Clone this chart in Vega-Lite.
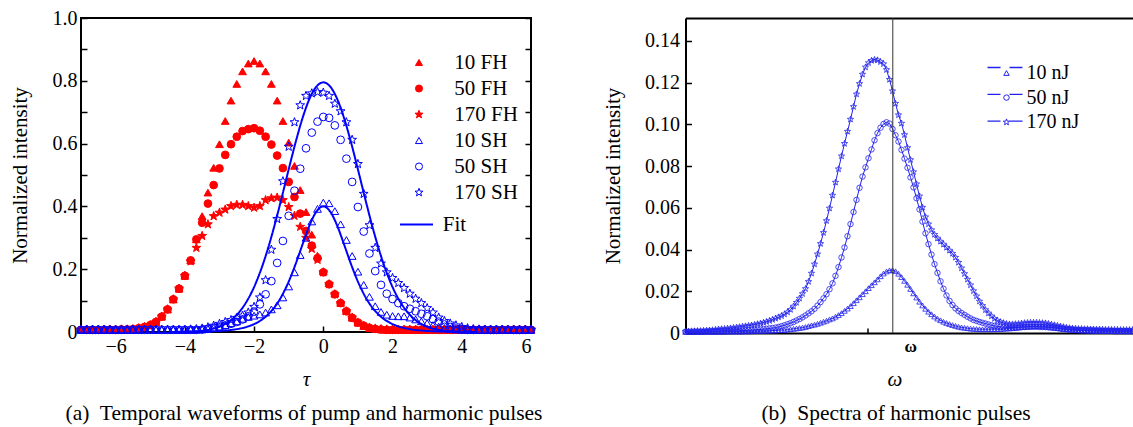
{
"$schema": "https://vega.github.io/schema/vega-lite/v6.json",
"background": "white",
"padding": {"left": 8, "top": 7, "right": 0, "bottom": 0},
"spacing": 154.5,
"bounds": "flush",
"config": {
 "font": "Liberation Serif",
 "view": {"stroke": "black", "strokeWidth": 2},
 "axis": {"grid": false, "domain": false, "labelFont": "Liberation Serif", "labelFontSize": 20, "labelColor": "black", "labelOverlap": false, "titleFont": "Liberation Serif", "titleFontSize": 21, "titleFontWeight": "normal", "titleColor": "black", "tickColor": "black", "tickWidth": 1.5, "tickSize": -6, "labelPadding": 10},
 "legend": {"labelFont": "Liberation Serif", "labelFontSize": 21, "labelColor": "black", "padding": 0},
 "title": {"font": "Liberation Serif", "fontSize": 21.5, "fontWeight": "normal", "color": "black"}
},
"resolve": {
 "scale": {"shape": "independent", "fill": "independent", "stroke": "independent", "strokeDash": "independent"},
 "legend": {"shape": "independent", "fill": "independent", "stroke": "independent", "strokeDash": "independent"}
},
"datasets": {
"L": [
{"s":"10 FH","t":-7,"v":0.007},{"s":"10 FH","t":-6.833,"v":0.007},{"s":"10 FH","t":-6.667,"v":0.007},{"s":"10 FH","t":-6.5,"v":0.007},{"s":"10 FH","t":-6.333,"v":0.007},{"s":"10 FH","t":-6.167,"v":0.007},{"s":"10 FH","t":-6,"v":0.007},{"s":"10 FH","t":-5.833,"v":0.008},{"s":"10 FH","t":-5.667,"v":0.008},{"s":"10 FH","t":-5.5,"v":0.009},{"s":"10 FH","t":-5.333,"v":0.012},{"s":"10 FH","t":-5.167,"v":0.016},{"s":"10 FH","t":-5,"v":0.022},{"s":"10 FH","t":-4.833,"v":0.032},{"s":"10 FH","t":-4.667,"v":0.049},{"s":"10 FH","t":-4.5,"v":0.072},{"s":"10 FH","t":-4.333,"v":0.104},{"s":"10 FH","t":-4.167,"v":0.138},{"s":"10 FH","t":-4,"v":0.179},{"s":"10 FH","t":-3.833,"v":0.228},{"s":"10 FH","t":-3.667,"v":0.295},{"s":"10 FH","t":-3.5,"v":0.369},{"s":"10 FH","t":-3.333,"v":0.444},{"s":"10 FH","t":-3.167,"v":0.523},{"s":"10 FH","t":-3,"v":0.598},{"s":"10 FH","t":-2.833,"v":0.672},{"s":"10 FH","t":-2.667,"v":0.737},{"s":"10 FH","t":-2.5,"v":0.79},{"s":"10 FH","t":-2.333,"v":0.83},{"s":"10 FH","t":-2.167,"v":0.855},{"s":"10 FH","t":-2,"v":0.863},{"s":"10 FH","t":-1.833,"v":0.855},{"s":"10 FH","t":-1.667,"v":0.83},{"s":"10 FH","t":-1.5,"v":0.79},{"s":"10 FH","t":-1.333,"v":0.737},{"s":"10 FH","t":-1.167,"v":0.672},{"s":"10 FH","t":-1,"v":0.603},{"s":"10 FH","t":-0.833,"v":0.529},{"s":"10 FH","t":-0.667,"v":0.452},{"s":"10 FH","t":-0.5,"v":0.382},{"s":"10 FH","t":-0.333,"v":0.31},{"s":"10 FH","t":-0.167,"v":0.243},{"s":"10 FH","t":0,"v":0.193},{"s":"10 FH","t":0.167,"v":0.155},{"s":"10 FH","t":0.333,"v":0.122},{"s":"10 FH","t":0.5,"v":0.093},{"s":"10 FH","t":0.667,"v":0.067},{"s":"10 FH","t":0.833,"v":0.046},{"s":"10 FH","t":1,"v":0.03},{"s":"10 FH","t":1.167,"v":0.019},{"s":"10 FH","t":1.333,"v":0.013},{"s":"10 FH","t":1.5,"v":0.01},{"s":"10 FH","t":1.667,"v":0.008},{"s":"10 FH","t":1.833,"v":0.007},{"s":"10 FH","t":2,"v":0.007},{"s":"10 FH","t":2.167,"v":0.007},{"s":"10 FH","t":2.333,"v":0.007},{"s":"10 FH","t":2.5,"v":0.007},{"s":"10 FH","t":2.667,"v":0.007},{"s":"10 FH","t":2.833,"v":0.007},{"s":"10 FH","t":3,"v":0.007},{"s":"10 FH","t":3.167,"v":0.007},{"s":"10 FH","t":3.333,"v":0.007},{"s":"10 FH","t":3.5,"v":0.007},{"s":"10 FH","t":3.667,"v":0.007},{"s":"10 FH","t":3.833,"v":0.007},{"s":"10 FH","t":4,"v":0.007},{"s":"10 FH","t":4.167,"v":0.007},{"s":"10 FH","t":4.333,"v":0.007},{"s":"10 FH","t":4.5,"v":0.007},{"s":"10 FH","t":4.667,"v":0.007},{"s":"10 FH","t":4.833,"v":0.007},{"s":"10 FH","t":5,"v":0.007},{"s":"10 FH","t":5.167,"v":0.007},{"s":"10 FH","t":5.333,"v":0.007},{"s":"10 FH","t":5.5,"v":0.007},{"s":"10 FH","t":5.667,"v":0.007},{"s":"10 FH","t":5.833,"v":0.007},{"s":"10 FH","t":6,"v":0.007},
{"s":"50 FH","t":-7,"v":0.007},{"s":"50 FH","t":-6.833,"v":0.007},{"s":"50 FH","t":-6.667,"v":0.007},{"s":"50 FH","t":-6.5,"v":0.007},{"s":"50 FH","t":-6.333,"v":0.007},{"s":"50 FH","t":-6.167,"v":0.007},{"s":"50 FH","t":-6,"v":0.007},{"s":"50 FH","t":-5.833,"v":0.008},{"s":"50 FH","t":-5.667,"v":0.008},{"s":"50 FH","t":-5.5,"v":0.009},{"s":"50 FH","t":-5.333,"v":0.012},{"s":"50 FH","t":-5.167,"v":0.016},{"s":"50 FH","t":-5,"v":0.022},{"s":"50 FH","t":-4.833,"v":0.032},{"s":"50 FH","t":-4.667,"v":0.049},{"s":"50 FH","t":-4.5,"v":0.072},{"s":"50 FH","t":-4.333,"v":0.104},{"s":"50 FH","t":-4.167,"v":0.138},{"s":"50 FH","t":-4,"v":0.179},{"s":"50 FH","t":-3.833,"v":0.228},{"s":"50 FH","t":-3.667,"v":0.295},{"s":"50 FH","t":-3.5,"v":0.348},{"s":"50 FH","t":-3.333,"v":0.409},{"s":"50 FH","t":-3.167,"v":0.468},{"s":"50 FH","t":-3,"v":0.521},{"s":"50 FH","t":-2.833,"v":0.564},{"s":"50 FH","t":-2.667,"v":0.598},{"s":"50 FH","t":-2.5,"v":0.622},{"s":"50 FH","t":-2.333,"v":0.64},{"s":"50 FH","t":-2.167,"v":0.646},{"s":"50 FH","t":-2,"v":0.649},{"s":"50 FH","t":-1.833,"v":0.641},{"s":"50 FH","t":-1.667,"v":0.622},{"s":"50 FH","t":-1.5,"v":0.597},{"s":"50 FH","t":-1.333,"v":0.562},{"s":"50 FH","t":-1.167,"v":0.522},{"s":"50 FH","t":-1,"v":0.478},{"s":"50 FH","t":-0.833,"v":0.43},{"s":"50 FH","t":-0.667,"v":0.377},{"s":"50 FH","t":-0.5,"v":0.322},{"s":"50 FH","t":-0.333,"v":0.275},{"s":"50 FH","t":-0.167,"v":0.235},{"s":"50 FH","t":0,"v":0.19},{"s":"50 FH","t":0.167,"v":0.152},{"s":"50 FH","t":0.333,"v":0.12},{"s":"50 FH","t":0.5,"v":0.092},{"s":"50 FH","t":0.667,"v":0.066},{"s":"50 FH","t":0.833,"v":0.045},{"s":"50 FH","t":1,"v":0.03},{"s":"50 FH","t":1.167,"v":0.02},{"s":"50 FH","t":1.333,"v":0.013},{"s":"50 FH","t":1.5,"v":0.01},{"s":"50 FH","t":1.667,"v":0.008},{"s":"50 FH","t":1.833,"v":0.007},{"s":"50 FH","t":2,"v":0.007},{"s":"50 FH","t":2.167,"v":0.007},{"s":"50 FH","t":2.333,"v":0.007},{"s":"50 FH","t":2.5,"v":0.007},{"s":"50 FH","t":2.667,"v":0.007},{"s":"50 FH","t":2.833,"v":0.007},{"s":"50 FH","t":3,"v":0.007},{"s":"50 FH","t":3.167,"v":0.007},{"s":"50 FH","t":3.333,"v":0.007},{"s":"50 FH","t":3.5,"v":0.007},{"s":"50 FH","t":3.667,"v":0.007},{"s":"50 FH","t":3.833,"v":0.007},{"s":"50 FH","t":4,"v":0.007},{"s":"50 FH","t":4.167,"v":0.007},{"s":"50 FH","t":4.333,"v":0.007},{"s":"50 FH","t":4.5,"v":0.007},{"s":"50 FH","t":4.667,"v":0.007},{"s":"50 FH","t":4.833,"v":0.007},{"s":"50 FH","t":5,"v":0.007},{"s":"50 FH","t":5.167,"v":0.007},{"s":"50 FH","t":5.333,"v":0.007},{"s":"50 FH","t":5.5,"v":0.007},{"s":"50 FH","t":5.667,"v":0.007},{"s":"50 FH","t":5.833,"v":0.007},{"s":"50 FH","t":6,"v":0.007},
{"s":"170 FH","t":-7,"v":0.007},{"s":"170 FH","t":-6.833,"v":0.007},{"s":"170 FH","t":-6.667,"v":0.007},{"s":"170 FH","t":-6.5,"v":0.007},{"s":"170 FH","t":-6.333,"v":0.007},{"s":"170 FH","t":-6.167,"v":0.007},{"s":"170 FH","t":-6,"v":0.007},{"s":"170 FH","t":-5.833,"v":0.008},{"s":"170 FH","t":-5.667,"v":0.008},{"s":"170 FH","t":-5.5,"v":0.009},{"s":"170 FH","t":-5.333,"v":0.012},{"s":"170 FH","t":-5.167,"v":0.016},{"s":"170 FH","t":-5,"v":0.022},{"s":"170 FH","t":-4.833,"v":0.032},{"s":"170 FH","t":-4.667,"v":0.049},{"s":"170 FH","t":-4.5,"v":0.072},{"s":"170 FH","t":-4.333,"v":0.104},{"s":"170 FH","t":-4.167,"v":0.138},{"s":"170 FH","t":-4,"v":0.179},{"s":"170 FH","t":-3.833,"v":0.225},{"s":"170 FH","t":-3.667,"v":0.268},{"s":"170 FH","t":-3.5,"v":0.306},{"s":"170 FH","t":-3.333,"v":0.343},{"s":"170 FH","t":-3.167,"v":0.369},{"s":"170 FH","t":-3,"v":0.38},{"s":"170 FH","t":-2.833,"v":0.39},{"s":"170 FH","t":-2.667,"v":0.401},{"s":"170 FH","t":-2.5,"v":0.405},{"s":"170 FH","t":-2.333,"v":0.405},{"s":"170 FH","t":-2.167,"v":0.401},{"s":"170 FH","t":-2,"v":0.396},{"s":"170 FH","t":-1.833,"v":0.401},{"s":"170 FH","t":-1.667,"v":0.42},{"s":"170 FH","t":-1.5,"v":0.426},{"s":"170 FH","t":-1.333,"v":0.428},{"s":"170 FH","t":-1.167,"v":0.42},{"s":"170 FH","t":-1,"v":0.398},{"s":"170 FH","t":-0.833,"v":0.37},{"s":"170 FH","t":-0.667,"v":0.335},{"s":"170 FH","t":-0.5,"v":0.3},{"s":"170 FH","t":-0.333,"v":0.265},{"s":"170 FH","t":-0.167,"v":0.23},{"s":"170 FH","t":0,"v":0.19},{"s":"170 FH","t":0.167,"v":0.152},{"s":"170 FH","t":0.333,"v":0.12},{"s":"170 FH","t":0.5,"v":0.092},{"s":"170 FH","t":0.667,"v":0.066},{"s":"170 FH","t":0.833,"v":0.046},{"s":"170 FH","t":1,"v":0.03},{"s":"170 FH","t":1.167,"v":0.02},{"s":"170 FH","t":1.333,"v":0.014},{"s":"170 FH","t":1.5,"v":0.011},{"s":"170 FH","t":1.667,"v":0.009},{"s":"170 FH","t":1.833,"v":0.008},{"s":"170 FH","t":2,"v":0.007},{"s":"170 FH","t":2.167,"v":0.007},{"s":"170 FH","t":2.333,"v":0.007},{"s":"170 FH","t":2.5,"v":0.007},{"s":"170 FH","t":2.667,"v":0.007},{"s":"170 FH","t":2.833,"v":0.007},{"s":"170 FH","t":3,"v":0.007},{"s":"170 FH","t":3.167,"v":0.007},{"s":"170 FH","t":3.333,"v":0.007},{"s":"170 FH","t":3.5,"v":0.007},{"s":"170 FH","t":3.667,"v":0.007},{"s":"170 FH","t":3.833,"v":0.007},{"s":"170 FH","t":4,"v":0.007},{"s":"170 FH","t":4.167,"v":0.007},{"s":"170 FH","t":4.333,"v":0.007},{"s":"170 FH","t":4.5,"v":0.007},{"s":"170 FH","t":4.667,"v":0.007},{"s":"170 FH","t":4.833,"v":0.007},{"s":"170 FH","t":5,"v":0.007},{"s":"170 FH","t":5.167,"v":0.007},{"s":"170 FH","t":5.333,"v":0.007},{"s":"170 FH","t":5.5,"v":0.007},{"s":"170 FH","t":5.667,"v":0.007},{"s":"170 FH","t":5.833,"v":0.007},{"s":"170 FH","t":6,"v":0.007},
{"s":"10 SH","t":-7,"v":0.007},{"s":"10 SH","t":-6.833,"v":0.007},{"s":"10 SH","t":-6.667,"v":0.007},{"s":"10 SH","t":-6.5,"v":0.007},{"s":"10 SH","t":-6.333,"v":0.007},{"s":"10 SH","t":-6.167,"v":0.007},{"s":"10 SH","t":-6,"v":0.007},{"s":"10 SH","t":-5.833,"v":0.007},{"s":"10 SH","t":-5.667,"v":0.007},{"s":"10 SH","t":-5.5,"v":0.007},{"s":"10 SH","t":-5.333,"v":0.007},{"s":"10 SH","t":-5.167,"v":0.007},{"s":"10 SH","t":-5,"v":0.007},{"s":"10 SH","t":-4.833,"v":0.007},{"s":"10 SH","t":-4.667,"v":0.007},{"s":"10 SH","t":-4.5,"v":0.007},{"s":"10 SH","t":-4.333,"v":0.007},{"s":"10 SH","t":-4.167,"v":0.007},{"s":"10 SH","t":-4,"v":0.007},{"s":"10 SH","t":-3.833,"v":0.007},{"s":"10 SH","t":-3.667,"v":0.007},{"s":"10 SH","t":-3.5,"v":0.008},{"s":"10 SH","t":-3.333,"v":0.01},{"s":"10 SH","t":-3.167,"v":0.013},{"s":"10 SH","t":-3,"v":0.017},{"s":"10 SH","t":-2.833,"v":0.022},{"s":"10 SH","t":-2.667,"v":0.028},{"s":"10 SH","t":-2.5,"v":0.034},{"s":"10 SH","t":-2.333,"v":0.042},{"s":"10 SH","t":-2.167,"v":0.048},{"s":"10 SH","t":-2,"v":0.052},{"s":"10 SH","t":-1.833,"v":0.056},{"s":"10 SH","t":-1.667,"v":0.062},{"s":"10 SH","t":-1.5,"v":0.072},{"s":"10 SH","t":-1.333,"v":0.085},{"s":"10 SH","t":-1.167,"v":0.11},{"s":"10 SH","t":-1,"v":0.145},{"s":"10 SH","t":-0.833,"v":0.19},{"s":"10 SH","t":-0.667,"v":0.245},{"s":"10 SH","t":-0.5,"v":0.3},{"s":"10 SH","t":-0.333,"v":0.352},{"s":"10 SH","t":-0.167,"v":0.392},{"s":"10 SH","t":0,"v":0.412},{"s":"10 SH","t":0.167,"v":0.41},{"s":"10 SH","t":0.333,"v":0.385},{"s":"10 SH","t":0.5,"v":0.343},{"s":"10 SH","t":0.667,"v":0.293},{"s":"10 SH","t":0.833,"v":0.242},{"s":"10 SH","t":1,"v":0.192},{"s":"10 SH","t":1.167,"v":0.15},{"s":"10 SH","t":1.333,"v":0.112},{"s":"10 SH","t":1.5,"v":0.082},{"s":"10 SH","t":1.667,"v":0.064},{"s":"10 SH","t":1.833,"v":0.055},{"s":"10 SH","t":2,"v":0.051},{"s":"10 SH","t":2.167,"v":0.05},{"s":"10 SH","t":2.333,"v":0.05},{"s":"10 SH","t":2.5,"v":0.046},{"s":"10 SH","t":2.667,"v":0.04},{"s":"10 SH","t":2.833,"v":0.034},{"s":"10 SH","t":3,"v":0.028},{"s":"10 SH","t":3.167,"v":0.022},{"s":"10 SH","t":3.333,"v":0.017},{"s":"10 SH","t":3.5,"v":0.013},{"s":"10 SH","t":3.667,"v":0.01},{"s":"10 SH","t":3.833,"v":0.008},{"s":"10 SH","t":4,"v":0.007},{"s":"10 SH","t":4.167,"v":0.007},{"s":"10 SH","t":4.333,"v":0.007},{"s":"10 SH","t":4.5,"v":0.007},{"s":"10 SH","t":4.667,"v":0.007},{"s":"10 SH","t":4.833,"v":0.007},{"s":"10 SH","t":5,"v":0.007},{"s":"10 SH","t":5.167,"v":0.007},{"s":"10 SH","t":5.333,"v":0.007},{"s":"10 SH","t":5.5,"v":0.007},{"s":"10 SH","t":5.667,"v":0.007},{"s":"10 SH","t":5.833,"v":0.007},{"s":"10 SH","t":6,"v":0.007},
{"s":"50 SH","t":-7,"v":0.007},{"s":"50 SH","t":-6.833,"v":0.007},{"s":"50 SH","t":-6.667,"v":0.007},{"s":"50 SH","t":-6.5,"v":0.007},{"s":"50 SH","t":-6.333,"v":0.007},{"s":"50 SH","t":-6.167,"v":0.007},{"s":"50 SH","t":-6,"v":0.007},{"s":"50 SH","t":-5.833,"v":0.007},{"s":"50 SH","t":-5.667,"v":0.007},{"s":"50 SH","t":-5.5,"v":0.007},{"s":"50 SH","t":-5.333,"v":0.007},{"s":"50 SH","t":-5.167,"v":0.007},{"s":"50 SH","t":-5,"v":0.007},{"s":"50 SH","t":-4.833,"v":0.007},{"s":"50 SH","t":-4.667,"v":0.007},{"s":"50 SH","t":-4.5,"v":0.007},{"s":"50 SH","t":-4.333,"v":0.007},{"s":"50 SH","t":-4.167,"v":0.007},{"s":"50 SH","t":-4,"v":0.007},{"s":"50 SH","t":-3.833,"v":0.007},{"s":"50 SH","t":-3.667,"v":0.007},{"s":"50 SH","t":-3.5,"v":0.008},{"s":"50 SH","t":-3.333,"v":0.01},{"s":"50 SH","t":-3.167,"v":0.013},{"s":"50 SH","t":-3,"v":0.017},{"s":"50 SH","t":-2.833,"v":0.021},{"s":"50 SH","t":-2.667,"v":0.026},{"s":"50 SH","t":-2.5,"v":0.032},{"s":"50 SH","t":-2.333,"v":0.04},{"s":"50 SH","t":-2.167,"v":0.05},{"s":"50 SH","t":-2,"v":0.065},{"s":"50 SH","t":-1.833,"v":0.088},{"s":"50 SH","t":-1.667,"v":0.12},{"s":"50 SH","t":-1.5,"v":0.162},{"s":"50 SH","t":-1.333,"v":0.22},{"s":"50 SH","t":-1.167,"v":0.29},{"s":"50 SH","t":-1,"v":0.37},{"s":"50 SH","t":-0.833,"v":0.45},{"s":"50 SH","t":-0.667,"v":0.52},{"s":"50 SH","t":-0.5,"v":0.585},{"s":"50 SH","t":-0.333,"v":0.635},{"s":"50 SH","t":-0.167,"v":0.67},{"s":"50 SH","t":0,"v":0.685},{"s":"50 SH","t":0.167,"v":0.682},{"s":"50 SH","t":0.333,"v":0.658},{"s":"50 SH","t":0.5,"v":0.612},{"s":"50 SH","t":0.667,"v":0.552},{"s":"50 SH","t":0.833,"v":0.478},{"s":"50 SH","t":1,"v":0.398},{"s":"50 SH","t":1.167,"v":0.32},{"s":"50 SH","t":1.333,"v":0.25},{"s":"50 SH","t":1.5,"v":0.194},{"s":"50 SH","t":1.667,"v":0.15},{"s":"50 SH","t":1.833,"v":0.122},{"s":"50 SH","t":2,"v":0.105},{"s":"50 SH","t":2.167,"v":0.092},{"s":"50 SH","t":2.333,"v":0.082},{"s":"50 SH","t":2.5,"v":0.074},{"s":"50 SH","t":2.667,"v":0.066},{"s":"50 SH","t":2.833,"v":0.058},{"s":"50 SH","t":3,"v":0.05},{"s":"50 SH","t":3.167,"v":0.041},{"s":"50 SH","t":3.333,"v":0.033},{"s":"50 SH","t":3.5,"v":0.024},{"s":"50 SH","t":3.667,"v":0.016},{"s":"50 SH","t":3.833,"v":0.011},{"s":"50 SH","t":4,"v":0.008},{"s":"50 SH","t":4.167,"v":0.007},{"s":"50 SH","t":4.333,"v":0.007},{"s":"50 SH","t":4.5,"v":0.007},{"s":"50 SH","t":4.667,"v":0.007},{"s":"50 SH","t":4.833,"v":0.007},{"s":"50 SH","t":5,"v":0.007},{"s":"50 SH","t":5.167,"v":0.007},{"s":"50 SH","t":5.333,"v":0.007},{"s":"50 SH","t":5.5,"v":0.007},{"s":"50 SH","t":5.667,"v":0.007},{"s":"50 SH","t":5.833,"v":0.007},{"s":"50 SH","t":6,"v":0.007},
{"s":"170 SH","t":-7,"v":0.007},{"s":"170 SH","t":-6.833,"v":0.007},{"s":"170 SH","t":-6.667,"v":0.007},{"s":"170 SH","t":-6.5,"v":0.007},{"s":"170 SH","t":-6.333,"v":0.007},{"s":"170 SH","t":-6.167,"v":0.007},{"s":"170 SH","t":-6,"v":0.007},{"s":"170 SH","t":-5.833,"v":0.007},{"s":"170 SH","t":-5.667,"v":0.007},{"s":"170 SH","t":-5.5,"v":0.007},{"s":"170 SH","t":-5.333,"v":0.007},{"s":"170 SH","t":-5.167,"v":0.007},{"s":"170 SH","t":-5,"v":0.007},{"s":"170 SH","t":-4.833,"v":0.007},{"s":"170 SH","t":-4.667,"v":0.007},{"s":"170 SH","t":-4.5,"v":0.007},{"s":"170 SH","t":-4.333,"v":0.007},{"s":"170 SH","t":-4.167,"v":0.007},{"s":"170 SH","t":-4,"v":0.007},{"s":"170 SH","t":-3.833,"v":0.008},{"s":"170 SH","t":-3.667,"v":0.009},{"s":"170 SH","t":-3.5,"v":0.011},{"s":"170 SH","t":-3.333,"v":0.015},{"s":"170 SH","t":-3.167,"v":0.02},{"s":"170 SH","t":-3,"v":0.026},{"s":"170 SH","t":-2.833,"v":0.032},{"s":"170 SH","t":-2.667,"v":0.038},{"s":"170 SH","t":-2.5,"v":0.045},{"s":"170 SH","t":-2.333,"v":0.052},{"s":"170 SH","t":-2.167,"v":0.062},{"s":"170 SH","t":-2,"v":0.08},{"s":"170 SH","t":-1.833,"v":0.11},{"s":"170 SH","t":-1.667,"v":0.165},{"s":"170 SH","t":-1.5,"v":0.262},{"s":"170 SH","t":-1.333,"v":0.36},{"s":"170 SH","t":-1.167,"v":0.48},{"s":"170 SH","t":-1,"v":0.59},{"s":"170 SH","t":-0.833,"v":0.668},{"s":"170 SH","t":-0.667,"v":0.722},{"s":"170 SH","t":-0.5,"v":0.752},{"s":"170 SH","t":-0.333,"v":0.76},{"s":"170 SH","t":-0.167,"v":0.764},{"s":"170 SH","t":0,"v":0.762},{"s":"170 SH","t":0.167,"v":0.752},{"s":"170 SH","t":0.333,"v":0.727},{"s":"170 SH","t":0.5,"v":0.703},{"s":"170 SH","t":0.667,"v":0.668},{"s":"170 SH","t":0.833,"v":0.612},{"s":"170 SH","t":1,"v":0.535},{"s":"170 SH","t":1.167,"v":0.44},{"s":"170 SH","t":1.333,"v":0.34},{"s":"170 SH","t":1.5,"v":0.268},{"s":"170 SH","t":1.667,"v":0.218},{"s":"170 SH","t":1.833,"v":0.19},{"s":"170 SH","t":2,"v":0.172},{"s":"170 SH","t":2.167,"v":0.156},{"s":"170 SH","t":2.333,"v":0.14},{"s":"170 SH","t":2.5,"v":0.122},{"s":"170 SH","t":2.667,"v":0.106},{"s":"170 SH","t":2.833,"v":0.092},{"s":"170 SH","t":3,"v":0.076},{"s":"170 SH","t":3.167,"v":0.062},{"s":"170 SH","t":3.333,"v":0.046},{"s":"170 SH","t":3.5,"v":0.035},{"s":"170 SH","t":3.667,"v":0.027},{"s":"170 SH","t":3.833,"v":0.021},{"s":"170 SH","t":4,"v":0.016},{"s":"170 SH","t":4.167,"v":0.012},{"s":"170 SH","t":4.333,"v":0.009},{"s":"170 SH","t":4.5,"v":0.008},{"s":"170 SH","t":4.667,"v":0.007},{"s":"170 SH","t":4.833,"v":0.007},{"s":"170 SH","t":5,"v":0.007},{"s":"170 SH","t":5.167,"v":0.007},{"s":"170 SH","t":5.333,"v":0.007},{"s":"170 SH","t":5.5,"v":0.007},{"s":"170 SH","t":5.667,"v":0.007},{"s":"170 SH","t":5.833,"v":0.007},{"s":"170 SH","t":6,"v":0.007}
],
"F": [
{"g":"a","f":"Fit","t":-4.4,"v":0.0002},{"g":"a","f":"Fit","t":-4.2,"v":0.0004},{"g":"a","f":"Fit","t":-4,"v":0.0008},{"g":"a","f":"Fit","t":-3.8,"v":0.0016},{"g":"a","f":"Fit","t":-3.6,"v":0.0031},{"g":"a","f":"Fit","t":-3.4,"v":0.0056},{"g":"a","f":"Fit","t":-3.2,"v":0.0099},{"g":"a","f":"Fit","t":-3,"v":0.0168},{"g":"a","f":"Fit","t":-2.8,"v":0.0276},{"g":"a","f":"Fit","t":-2.6,"v":0.0439},{"g":"a","f":"Fit","t":-2.4,"v":0.0673},{"g":"a","f":"Fit","t":-2.2,"v":0.0999},{"g":"a","f":"Fit","t":-2,"v":0.1431},{"g":"a","f":"Fit","t":-1.8,"v":0.1983},{"g":"a","f":"Fit","t":-1.6,"v":0.2654},{"g":"a","f":"Fit","t":-1.4,"v":0.3432},{"g":"a","f":"Fit","t":-1.2,"v":0.4289},{"g":"a","f":"Fit","t":-1,"v":0.5179},{"g":"a","f":"Fit","t":-0.8,"v":0.6043},{"g":"a","f":"Fit","t":-0.6,"v":0.6813},{"g":"a","f":"Fit","t":-0.4,"v":0.7423},{"g":"a","f":"Fit","t":-0.2,"v":0.7815},{"g":"a","f":"Fit","t":0,"v":0.795},{"g":"a","f":"Fit","t":0.2,"v":0.7815},{"g":"a","f":"Fit","t":0.4,"v":0.7423},{"g":"a","f":"Fit","t":0.6,"v":0.6813},{"g":"a","f":"Fit","t":0.8,"v":0.6043},{"g":"a","f":"Fit","t":1,"v":0.5179},{"g":"a","f":"Fit","t":1.2,"v":0.4289},{"g":"a","f":"Fit","t":1.4,"v":0.3432},{"g":"a","f":"Fit","t":1.6,"v":0.2654},{"g":"a","f":"Fit","t":1.8,"v":0.1983},{"g":"a","f":"Fit","t":2,"v":0.1431},{"g":"a","f":"Fit","t":2.2,"v":0.0999},{"g":"a","f":"Fit","t":2.4,"v":0.0673},{"g":"a","f":"Fit","t":2.6,"v":0.0439},{"g":"a","f":"Fit","t":2.8,"v":0.0276},{"g":"a","f":"Fit","t":3,"v":0.0168},{"g":"a","f":"Fit","t":3.2,"v":0.0099},{"g":"a","f":"Fit","t":3.4,"v":0.0056},{"g":"a","f":"Fit","t":3.6,"v":0.0031},{"g":"a","f":"Fit","t":3.8,"v":0.0016},{"g":"a","f":"Fit","t":4,"v":0.0008},{"g":"a","f":"Fit","t":4.2,"v":0.0004},{"g":"a","f":"Fit","t":4.4,"v":0.0002},
{"g":"b","f":"Fit","t":-4.4,"v":0.0002},{"g":"b","f":"Fit","t":-4.2,"v":0.0003},{"g":"b","f":"Fit","t":-4,"v":0.0004},{"g":"b","f":"Fit","t":-3.8,"v":0.0006},{"g":"b","f":"Fit","t":-3.6,"v":0.001},{"g":"b","f":"Fit","t":-3.4,"v":0.0015},{"g":"b","f":"Fit","t":-3.2,"v":0.0022},{"g":"b","f":"Fit","t":-3,"v":0.0033},{"g":"b","f":"Fit","t":-2.8,"v":0.0049},{"g":"b","f":"Fit","t":-2.6,"v":0.0074},{"g":"b","f":"Fit","t":-2.4,"v":0.0112},{"g":"b","f":"Fit","t":-2.2,"v":0.0168},{"g":"b","f":"Fit","t":-2,"v":0.0251},{"g":"b","f":"Fit","t":-1.8,"v":0.0374},{"g":"b","f":"Fit","t":-1.6,"v":0.0551},{"g":"b","f":"Fit","t":-1.4,"v":0.08},{"g":"b","f":"Fit","t":-1.2,"v":0.1149},{"g":"b","f":"Fit","t":-1,"v":0.1605},{"g":"b","f":"Fit","t":-0.8,"v":0.2164},{"g":"b","f":"Fit","t":-0.6,"v":0.2788},{"g":"b","f":"Fit","t":-0.4,"v":0.339},{"g":"b","f":"Fit","t":-0.2,"v":0.3835},{"g":"b","f":"Fit","t":0,"v":0.4},{"g":"b","f":"Fit","t":0.2,"v":0.3835},{"g":"b","f":"Fit","t":0.4,"v":0.339},{"g":"b","f":"Fit","t":0.6,"v":0.2788},{"g":"b","f":"Fit","t":0.8,"v":0.2164},{"g":"b","f":"Fit","t":1,"v":0.1605},{"g":"b","f":"Fit","t":1.2,"v":0.1149},{"g":"b","f":"Fit","t":1.4,"v":0.08},{"g":"b","f":"Fit","t":1.6,"v":0.0551},{"g":"b","f":"Fit","t":1.8,"v":0.0374},{"g":"b","f":"Fit","t":2,"v":0.0251},{"g":"b","f":"Fit","t":2.2,"v":0.0168},{"g":"b","f":"Fit","t":2.4,"v":0.0112},{"g":"b","f":"Fit","t":2.6,"v":0.0074},{"g":"b","f":"Fit","t":2.8,"v":0.0049},{"g":"b","f":"Fit","t":3,"v":0.0033},{"g":"b","f":"Fit","t":3.2,"v":0.0022},{"g":"b","f":"Fit","t":3.4,"v":0.0015},{"g":"b","f":"Fit","t":3.6,"v":0.001},{"g":"b","f":"Fit","t":3.8,"v":0.0006},{"g":"b","f":"Fit","t":4,"v":0.0004},{"g":"b","f":"Fit","t":4.2,"v":0.0003},{"g":"b","f":"Fit","t":4.4,"v":0.0002}
],
"V": [{"x": 207.3}],
"R": [
{"s":"10 nJ","x":0,"y":0.0005},{"s":"10 nJ","x":3,"y":0.0005},{"s":"10 nJ","x":6,"y":0.0005},{"s":"10 nJ","x":9,"y":0.0005},{"s":"10 nJ","x":12,"y":0.0005},{"s":"10 nJ","x":15,"y":0.0005},{"s":"10 nJ","x":18,"y":0.0006},{"s":"10 nJ","x":21,"y":0.0006},{"s":"10 nJ","x":24,"y":0.0006},{"s":"10 nJ","x":27,"y":0.0006},{"s":"10 nJ","x":30,"y":0.0006},{"s":"10 nJ","x":33,"y":0.0006},{"s":"10 nJ","x":36,"y":0.0006},{"s":"10 nJ","x":39,"y":0.0006},{"s":"10 nJ","x":42,"y":0.0007},{"s":"10 nJ","x":45,"y":0.0007},{"s":"10 nJ","x":48,"y":0.0007},{"s":"10 nJ","x":51,"y":0.0007},{"s":"10 nJ","x":54,"y":0.0007},{"s":"10 nJ","x":57,"y":0.0007},{"s":"10 nJ","x":60,"y":0.0008},{"s":"10 nJ","x":63,"y":0.0008},{"s":"10 nJ","x":66,"y":0.0008},{"s":"10 nJ","x":69,"y":0.0009},{"s":"10 nJ","x":72,"y":0.0009},{"s":"10 nJ","x":75,"y":0.001},{"s":"10 nJ","x":78,"y":0.001},{"s":"10 nJ","x":81,"y":0.0011},{"s":"10 nJ","x":84,"y":0.0011},{"s":"10 nJ","x":87,"y":0.0012},{"s":"10 nJ","x":90,"y":0.0012},{"s":"10 nJ","x":93,"y":0.0013},{"s":"10 nJ","x":96,"y":0.0014},{"s":"10 nJ","x":99,"y":0.0014},{"s":"10 nJ","x":102,"y":0.0016},{"s":"10 nJ","x":105,"y":0.0018},{"s":"10 nJ","x":108,"y":0.002},{"s":"10 nJ","x":111,"y":0.0022},{"s":"10 nJ","x":114,"y":0.0024},{"s":"10 nJ","x":117,"y":0.0026},{"s":"10 nJ","x":120,"y":0.0029},{"s":"10 nJ","x":123,"y":0.0033},{"s":"10 nJ","x":126,"y":0.0037},{"s":"10 nJ","x":129,"y":0.004},{"s":"10 nJ","x":132,"y":0.0044},{"s":"10 nJ","x":135,"y":0.0049},{"s":"10 nJ","x":138,"y":0.0054},{"s":"10 nJ","x":141,"y":0.0059},{"s":"10 nJ","x":144,"y":0.0065},{"s":"10 nJ","x":147,"y":0.007},{"s":"10 nJ","x":150,"y":0.0078},{"s":"10 nJ","x":153,"y":0.0086},{"s":"10 nJ","x":156,"y":0.0095},{"s":"10 nJ","x":159,"y":0.0106},{"s":"10 nJ","x":162,"y":0.0117},{"s":"10 nJ","x":165,"y":0.0129},{"s":"10 nJ","x":168,"y":0.0143},{"s":"10 nJ","x":171,"y":0.0157},{"s":"10 nJ","x":174,"y":0.0171},{"s":"10 nJ","x":177,"y":0.0186},{"s":"10 nJ","x":180,"y":0.02},{"s":"10 nJ","x":183,"y":0.0215},{"s":"10 nJ","x":186,"y":0.0229},{"s":"10 nJ","x":189,"y":0.0243},{"s":"10 nJ","x":192,"y":0.0257},{"s":"10 nJ","x":195,"y":0.0272},{"s":"10 nJ","x":198,"y":0.0285},{"s":"10 nJ","x":201,"y":0.0295},{"s":"10 nJ","x":204,"y":0.03},{"s":"10 nJ","x":207,"y":0.0301},{"s":"10 nJ","x":210,"y":0.0296},{"s":"10 nJ","x":213,"y":0.0284},{"s":"10 nJ","x":216,"y":0.0268},{"s":"10 nJ","x":219,"y":0.025},{"s":"10 nJ","x":222,"y":0.0231},{"s":"10 nJ","x":225,"y":0.0211},{"s":"10 nJ","x":228,"y":0.019},{"s":"10 nJ","x":231,"y":0.017},{"s":"10 nJ","x":234,"y":0.015},{"s":"10 nJ","x":237,"y":0.0132},{"s":"10 nJ","x":240,"y":0.0116},{"s":"10 nJ","x":243,"y":0.0102},{"s":"10 nJ","x":246,"y":0.009},{"s":"10 nJ","x":249,"y":0.0079},{"s":"10 nJ","x":252,"y":0.0069},{"s":"10 nJ","x":255,"y":0.0061},{"s":"10 nJ","x":258,"y":0.0054},{"s":"10 nJ","x":261,"y":0.0048},{"s":"10 nJ","x":264,"y":0.0043},{"s":"10 nJ","x":267,"y":0.0038},{"s":"10 nJ","x":270,"y":0.0034},{"s":"10 nJ","x":273,"y":0.003},{"s":"10 nJ","x":276,"y":0.0027},{"s":"10 nJ","x":279,"y":0.0025},{"s":"10 nJ","x":282,"y":0.0023},{"s":"10 nJ","x":285,"y":0.0021},{"s":"10 nJ","x":288,"y":0.002},{"s":"10 nJ","x":291,"y":0.0019},{"s":"10 nJ","x":294,"y":0.0018},{"s":"10 nJ","x":297,"y":0.0018},{"s":"10 nJ","x":300,"y":0.0018},{"s":"10 nJ","x":303,"y":0.0018},{"s":"10 nJ","x":306,"y":0.0018},{"s":"10 nJ","x":309,"y":0.0018},{"s":"10 nJ","x":312,"y":0.0018},{"s":"10 nJ","x":315,"y":0.0019},{"s":"10 nJ","x":318,"y":0.002},{"s":"10 nJ","x":321,"y":0.0021},{"s":"10 nJ","x":324,"y":0.0022},{"s":"10 nJ","x":327,"y":0.0023},{"s":"10 nJ","x":330,"y":0.0025},{"s":"10 nJ","x":333,"y":0.0026},{"s":"10 nJ","x":336,"y":0.0028},{"s":"10 nJ","x":339,"y":0.0029},{"s":"10 nJ","x":342,"y":0.003},{"s":"10 nJ","x":345,"y":0.0031},{"s":"10 nJ","x":348,"y":0.0032},{"s":"10 nJ","x":351,"y":0.0032},{"s":"10 nJ","x":354,"y":0.0032},{"s":"10 nJ","x":357,"y":0.0031},{"s":"10 nJ","x":360,"y":0.003},{"s":"10 nJ","x":363,"y":0.0029},{"s":"10 nJ","x":366,"y":0.0027},{"s":"10 nJ","x":369,"y":0.0025},{"s":"10 nJ","x":372,"y":0.0023},{"s":"10 nJ","x":375,"y":0.0021},{"s":"10 nJ","x":378,"y":0.0019},{"s":"10 nJ","x":381,"y":0.0017},{"s":"10 nJ","x":384,"y":0.0016},{"s":"10 nJ","x":387,"y":0.0015},{"s":"10 nJ","x":390,"y":0.0014},{"s":"10 nJ","x":393,"y":0.0013},{"s":"10 nJ","x":396,"y":0.0012},{"s":"10 nJ","x":399,"y":0.0012},{"s":"10 nJ","x":402,"y":0.0011},{"s":"10 nJ","x":405,"y":0.0011},{"s":"10 nJ","x":408,"y":0.001},{"s":"10 nJ","x":411,"y":0.001},{"s":"10 nJ","x":414,"y":0.001},{"s":"10 nJ","x":417,"y":0.0009},{"s":"10 nJ","x":420,"y":0.0009},{"s":"10 nJ","x":423,"y":0.0009},{"s":"10 nJ","x":426,"y":0.0009},{"s":"10 nJ","x":429,"y":0.0008},{"s":"10 nJ","x":432,"y":0.0008},{"s":"10 nJ","x":435,"y":0.0008},{"s":"10 nJ","x":438,"y":0.0008},{"s":"10 nJ","x":441,"y":0.0008},{"s":"10 nJ","x":444,"y":0.0008},{"s":"10 nJ","x":447,"y":0.0008},
{"s":"50 nJ","x":0,"y":0.0006},{"s":"50 nJ","x":3,"y":0.0006},{"s":"50 nJ","x":6,"y":0.0006},{"s":"50 nJ","x":9,"y":0.0007},{"s":"50 nJ","x":12,"y":0.0007},{"s":"50 nJ","x":15,"y":0.0007},{"s":"50 nJ","x":18,"y":0.0007},{"s":"50 nJ","x":21,"y":0.0008},{"s":"50 nJ","x":24,"y":0.0008},{"s":"50 nJ","x":27,"y":0.0008},{"s":"50 nJ","x":30,"y":0.0008},{"s":"50 nJ","x":33,"y":0.0009},{"s":"50 nJ","x":36,"y":0.0009},{"s":"50 nJ","x":39,"y":0.0009},{"s":"50 nJ","x":42,"y":0.001},{"s":"50 nJ","x":45,"y":0.001},{"s":"50 nJ","x":48,"y":0.001},{"s":"50 nJ","x":51,"y":0.001},{"s":"50 nJ","x":54,"y":0.0011},{"s":"50 nJ","x":57,"y":0.0012},{"s":"50 nJ","x":60,"y":0.0012},{"s":"50 nJ","x":63,"y":0.0013},{"s":"50 nJ","x":66,"y":0.0014},{"s":"50 nJ","x":69,"y":0.0015},{"s":"50 nJ","x":72,"y":0.0016},{"s":"50 nJ","x":75,"y":0.0017},{"s":"50 nJ","x":78,"y":0.0019},{"s":"50 nJ","x":81,"y":0.002},{"s":"50 nJ","x":84,"y":0.0022},{"s":"50 nJ","x":87,"y":0.0024},{"s":"50 nJ","x":90,"y":0.0026},{"s":"50 nJ","x":93,"y":0.0029},{"s":"50 nJ","x":96,"y":0.0033},{"s":"50 nJ","x":99,"y":0.0037},{"s":"50 nJ","x":102,"y":0.0042},{"s":"50 nJ","x":105,"y":0.0047},{"s":"50 nJ","x":108,"y":0.0053},{"s":"50 nJ","x":111,"y":0.006},{"s":"50 nJ","x":114,"y":0.0067},{"s":"50 nJ","x":117,"y":0.0075},{"s":"50 nJ","x":120,"y":0.0084},{"s":"50 nJ","x":123,"y":0.0094},{"s":"50 nJ","x":126,"y":0.0104},{"s":"50 nJ","x":129,"y":0.0116},{"s":"50 nJ","x":132,"y":0.0131},{"s":"50 nJ","x":135,"y":0.0148},{"s":"50 nJ","x":138,"y":0.0166},{"s":"50 nJ","x":141,"y":0.0186},{"s":"50 nJ","x":144,"y":0.021},{"s":"50 nJ","x":147,"y":0.0238},{"s":"50 nJ","x":150,"y":0.0274},{"s":"50 nJ","x":153,"y":0.0316},{"s":"50 nJ","x":156,"y":0.0362},{"s":"50 nJ","x":159,"y":0.041},{"s":"50 nJ","x":162,"y":0.0464},{"s":"50 nJ","x":165,"y":0.0522},{"s":"50 nJ","x":168,"y":0.058},{"s":"50 nJ","x":171,"y":0.0638},{"s":"50 nJ","x":174,"y":0.0696},{"s":"50 nJ","x":177,"y":0.075},{"s":"50 nJ","x":180,"y":0.0794},{"s":"50 nJ","x":183,"y":0.0838},{"s":"50 nJ","x":186,"y":0.088},{"s":"50 nJ","x":189,"y":0.0924},{"s":"50 nJ","x":192,"y":0.0958},{"s":"50 nJ","x":195,"y":0.0984},{"s":"50 nJ","x":198,"y":0.1002},{"s":"50 nJ","x":201,"y":0.101},{"s":"50 nJ","x":204,"y":0.1004},{"s":"50 nJ","x":207,"y":0.0978},{"s":"50 nJ","x":210,"y":0.0948},{"s":"50 nJ","x":213,"y":0.0918},{"s":"50 nJ","x":216,"y":0.0878},{"s":"50 nJ","x":219,"y":0.0836},{"s":"50 nJ","x":222,"y":0.0792},{"s":"50 nJ","x":225,"y":0.0746},{"s":"50 nJ","x":228,"y":0.0698},{"s":"50 nJ","x":231,"y":0.0646},{"s":"50 nJ","x":234,"y":0.0592},{"s":"50 nJ","x":237,"y":0.0534},{"s":"50 nJ","x":240,"y":0.0478},{"s":"50 nJ","x":243,"y":0.0426},{"s":"50 nJ","x":246,"y":0.0376},{"s":"50 nJ","x":249,"y":0.033},{"s":"50 nJ","x":252,"y":0.0288},{"s":"50 nJ","x":255,"y":0.0248},{"s":"50 nJ","x":258,"y":0.0212},{"s":"50 nJ","x":261,"y":0.018},{"s":"50 nJ","x":264,"y":0.0154},{"s":"50 nJ","x":267,"y":0.0134},{"s":"50 nJ","x":270,"y":0.0118},{"s":"50 nJ","x":273,"y":0.0106},{"s":"50 nJ","x":276,"y":0.0096},{"s":"50 nJ","x":279,"y":0.0087},{"s":"50 nJ","x":282,"y":0.0078},{"s":"50 nJ","x":285,"y":0.007},{"s":"50 nJ","x":288,"y":0.0063},{"s":"50 nJ","x":291,"y":0.0058},{"s":"50 nJ","x":294,"y":0.0053},{"s":"50 nJ","x":297,"y":0.0049},{"s":"50 nJ","x":300,"y":0.0045},{"s":"50 nJ","x":303,"y":0.0041},{"s":"50 nJ","x":306,"y":0.0037},{"s":"50 nJ","x":309,"y":0.0034},{"s":"50 nJ","x":312,"y":0.0032},{"s":"50 nJ","x":315,"y":0.003},{"s":"50 nJ","x":318,"y":0.0028},{"s":"50 nJ","x":321,"y":0.0027},{"s":"50 nJ","x":324,"y":0.0026},{"s":"50 nJ","x":327,"y":0.0026},{"s":"50 nJ","x":330,"y":0.0026},{"s":"50 nJ","x":333,"y":0.0027},{"s":"50 nJ","x":336,"y":0.0028},{"s":"50 nJ","x":339,"y":0.0029},{"s":"50 nJ","x":342,"y":0.003},{"s":"50 nJ","x":345,"y":0.003},{"s":"50 nJ","x":348,"y":0.003},{"s":"50 nJ","x":351,"y":0.003},{"s":"50 nJ","x":354,"y":0.0029},{"s":"50 nJ","x":357,"y":0.0029},{"s":"50 nJ","x":360,"y":0.0028},{"s":"50 nJ","x":363,"y":0.0027},{"s":"50 nJ","x":366,"y":0.0026},{"s":"50 nJ","x":369,"y":0.0025},{"s":"50 nJ","x":372,"y":0.0024},{"s":"50 nJ","x":375,"y":0.0022},{"s":"50 nJ","x":378,"y":0.002},{"s":"50 nJ","x":381,"y":0.0019},{"s":"50 nJ","x":384,"y":0.0018},{"s":"50 nJ","x":387,"y":0.0017},{"s":"50 nJ","x":390,"y":0.0016},{"s":"50 nJ","x":393,"y":0.0015},{"s":"50 nJ","x":396,"y":0.0014},{"s":"50 nJ","x":399,"y":0.0014},{"s":"50 nJ","x":402,"y":0.0013},{"s":"50 nJ","x":405,"y":0.0013},{"s":"50 nJ","x":408,"y":0.0012},{"s":"50 nJ","x":411,"y":0.0012},{"s":"50 nJ","x":414,"y":0.0012},{"s":"50 nJ","x":417,"y":0.0011},{"s":"50 nJ","x":420,"y":0.0011},{"s":"50 nJ","x":423,"y":0.0011},{"s":"50 nJ","x":426,"y":0.0011},{"s":"50 nJ","x":429,"y":0.001},{"s":"50 nJ","x":432,"y":0.001},{"s":"50 nJ","x":435,"y":0.001},{"s":"50 nJ","x":438,"y":0.001},{"s":"50 nJ","x":441,"y":0.001},{"s":"50 nJ","x":444,"y":0.001},{"s":"50 nJ","x":447,"y":0.001},
{"s":"170 nJ","x":0,"y":0.0008},{"s":"170 nJ","x":3,"y":0.0008},{"s":"170 nJ","x":6,"y":0.0009},{"s":"170 nJ","x":9,"y":0.0009},{"s":"170 nJ","x":12,"y":0.001},{"s":"170 nJ","x":15,"y":0.001},{"s":"170 nJ","x":18,"y":0.0011},{"s":"170 nJ","x":21,"y":0.0012},{"s":"170 nJ","x":24,"y":0.0013},{"s":"170 nJ","x":27,"y":0.0014},{"s":"170 nJ","x":30,"y":0.0016},{"s":"170 nJ","x":33,"y":0.0018},{"s":"170 nJ","x":36,"y":0.0019},{"s":"170 nJ","x":39,"y":0.002},{"s":"170 nJ","x":42,"y":0.0022},{"s":"170 nJ","x":45,"y":0.0023},{"s":"170 nJ","x":48,"y":0.0025},{"s":"170 nJ","x":51,"y":0.0027},{"s":"170 nJ","x":54,"y":0.0029},{"s":"170 nJ","x":57,"y":0.0031},{"s":"170 nJ","x":60,"y":0.0033},{"s":"170 nJ","x":63,"y":0.0035},{"s":"170 nJ","x":66,"y":0.0037},{"s":"170 nJ","x":69,"y":0.004},{"s":"170 nJ","x":72,"y":0.0043},{"s":"170 nJ","x":75,"y":0.0046},{"s":"170 nJ","x":78,"y":0.005},{"s":"170 nJ","x":81,"y":0.0054},{"s":"170 nJ","x":84,"y":0.0059},{"s":"170 nJ","x":87,"y":0.0064},{"s":"170 nJ","x":90,"y":0.007},{"s":"170 nJ","x":93,"y":0.0076},{"s":"170 nJ","x":96,"y":0.0082},{"s":"170 nJ","x":99,"y":0.009},{"s":"170 nJ","x":102,"y":0.01},{"s":"170 nJ","x":105,"y":0.0112},{"s":"170 nJ","x":108,"y":0.0128},{"s":"170 nJ","x":111,"y":0.0146},{"s":"170 nJ","x":114,"y":0.0166},{"s":"170 nJ","x":117,"y":0.0188},{"s":"170 nJ","x":120,"y":0.0212},{"s":"170 nJ","x":123,"y":0.0246},{"s":"170 nJ","x":126,"y":0.0286},{"s":"170 nJ","x":129,"y":0.033},{"s":"170 nJ","x":132,"y":0.0378},{"s":"170 nJ","x":135,"y":0.0428},{"s":"170 nJ","x":138,"y":0.0481},{"s":"170 nJ","x":141,"y":0.0538},{"s":"170 nJ","x":144,"y":0.0598},{"s":"170 nJ","x":147,"y":0.066},{"s":"170 nJ","x":150,"y":0.0722},{"s":"170 nJ","x":153,"y":0.0786},{"s":"170 nJ","x":156,"y":0.0848},{"s":"170 nJ","x":159,"y":0.0908},{"s":"170 nJ","x":162,"y":0.0966},{"s":"170 nJ","x":165,"y":0.1024},{"s":"170 nJ","x":168,"y":0.1085},{"s":"170 nJ","x":171,"y":0.1145},{"s":"170 nJ","x":174,"y":0.1195},{"s":"170 nJ","x":177,"y":0.124},{"s":"170 nJ","x":180,"y":0.1274},{"s":"170 nJ","x":183,"y":0.1295},{"s":"170 nJ","x":186,"y":0.1306},{"s":"170 nJ","x":189,"y":0.131},{"s":"170 nJ","x":192,"y":0.1308},{"s":"170 nJ","x":195,"y":0.13},{"s":"170 nJ","x":198,"y":0.129},{"s":"170 nJ","x":201,"y":0.1262},{"s":"170 nJ","x":204,"y":0.1215},{"s":"170 nJ","x":207,"y":0.116},{"s":"170 nJ","x":210,"y":0.11},{"s":"170 nJ","x":213,"y":0.1045},{"s":"170 nJ","x":216,"y":0.1005},{"s":"170 nJ","x":219,"y":0.095},{"s":"170 nJ","x":222,"y":0.0888},{"s":"170 nJ","x":225,"y":0.083},{"s":"170 nJ","x":228,"y":0.0772},{"s":"170 nJ","x":231,"y":0.0714},{"s":"170 nJ","x":234,"y":0.0656},{"s":"170 nJ","x":237,"y":0.0602},{"s":"170 nJ","x":240,"y":0.0556},{"s":"170 nJ","x":243,"y":0.0522},{"s":"170 nJ","x":246,"y":0.0494},{"s":"170 nJ","x":249,"y":0.0472},{"s":"170 nJ","x":252,"y":0.0454},{"s":"170 nJ","x":255,"y":0.0439},{"s":"170 nJ","x":258,"y":0.0425},{"s":"170 nJ","x":261,"y":0.041},{"s":"170 nJ","x":264,"y":0.0396},{"s":"170 nJ","x":267,"y":0.0381},{"s":"170 nJ","x":270,"y":0.0362},{"s":"170 nJ","x":273,"y":0.0338},{"s":"170 nJ","x":276,"y":0.0311},{"s":"170 nJ","x":279,"y":0.0284},{"s":"170 nJ","x":282,"y":0.0257},{"s":"170 nJ","x":285,"y":0.023},{"s":"170 nJ","x":288,"y":0.0202},{"s":"170 nJ","x":291,"y":0.0177},{"s":"170 nJ","x":294,"y":0.0152},{"s":"170 nJ","x":297,"y":0.0131},{"s":"170 nJ","x":300,"y":0.0111},{"s":"170 nJ","x":303,"y":0.0095},{"s":"170 nJ","x":306,"y":0.0081},{"s":"170 nJ","x":309,"y":0.0069},{"s":"170 nJ","x":312,"y":0.006},{"s":"170 nJ","x":315,"y":0.0053},{"s":"170 nJ","x":318,"y":0.0048},{"s":"170 nJ","x":321,"y":0.0044},{"s":"170 nJ","x":324,"y":0.0042},{"s":"170 nJ","x":327,"y":0.0042},{"s":"170 nJ","x":330,"y":0.0043},{"s":"170 nJ","x":333,"y":0.0044},{"s":"170 nJ","x":336,"y":0.0046},{"s":"170 nJ","x":339,"y":0.0048},{"s":"170 nJ","x":342,"y":0.0049},{"s":"170 nJ","x":345,"y":0.005},{"s":"170 nJ","x":348,"y":0.005},{"s":"170 nJ","x":351,"y":0.005},{"s":"170 nJ","x":354,"y":0.0049},{"s":"170 nJ","x":357,"y":0.0048},{"s":"170 nJ","x":360,"y":0.0047},{"s":"170 nJ","x":363,"y":0.0044},{"s":"170 nJ","x":366,"y":0.0041},{"s":"170 nJ","x":369,"y":0.0038},{"s":"170 nJ","x":372,"y":0.0035},{"s":"170 nJ","x":375,"y":0.0032},{"s":"170 nJ","x":378,"y":0.0029},{"s":"170 nJ","x":381,"y":0.0026},{"s":"170 nJ","x":384,"y":0.0024},{"s":"170 nJ","x":387,"y":0.0022},{"s":"170 nJ","x":390,"y":0.0021},{"s":"170 nJ","x":393,"y":0.002},{"s":"170 nJ","x":396,"y":0.002},{"s":"170 nJ","x":399,"y":0.0019},{"s":"170 nJ","x":402,"y":0.0019},{"s":"170 nJ","x":405,"y":0.0018},{"s":"170 nJ","x":408,"y":0.0018},{"s":"170 nJ","x":411,"y":0.0017},{"s":"170 nJ","x":414,"y":0.0017},{"s":"170 nJ","x":417,"y":0.0017},{"s":"170 nJ","x":420,"y":0.0016},{"s":"170 nJ","x":423,"y":0.0016},{"s":"170 nJ","x":426,"y":0.0016},{"s":"170 nJ","x":429,"y":0.0016},{"s":"170 nJ","x":432,"y":0.0016},{"s":"170 nJ","x":435,"y":0.0015},{"s":"170 nJ","x":438,"y":0.0015},{"s":"170 nJ","x":441,"y":0.0015},{"s":"170 nJ","x":444,"y":0.0015},{"s":"170 nJ","x":447,"y":0.0015}
]
},
"hconcat": [
{
 "width": 450, "height": 314,
 "title": {"text": "(a)\u00a0 Temporal waveforms of pump and harmonic pulses", "orient": "bottom", "frame": "group", "anchor": "middle", "dx": -2, "offset": 14},
 "layer": [
  {
   "data": {"name": "L"},
   "mark": {"type": "point", "size": 60, "strokeWidth": 1, "opacity": 1},
   "encoding": {
    "x": {"field": "t", "type": "quantitative", "scale": {"domain": [-7, 6], "nice": false, "zero": false},
          "axis": {"values": [-6,-5,-4,-3,-2,-1,0,1,2,3,4,5,6], "labelOverlap": false, "labelExpr": "datum.value % 2 == 0 ? format(datum.value, 'd') : ''", "title": "τ", "titleFontStyle": "italic", "titlePadding": 12}},
    "y": {"field": "v", "type": "quantitative", "scale": {"domain": [0, 1], "nice": false},
          "axis": {"values": [0,0.1,0.2,0.3,0.4,0.5,0.6,0.7,0.8,0.9,1], "labelOverlap": false, "labelExpr": "round(datum.value*10) % 2 == 0 ? (datum.value == 0 ? '0' : format(datum.value, '.1f')) : ''", "title": "Normalized intensity", "titlePadding": 21.5}},
    "shape": {"field": "s", "type": "nominal", "scale": {"domain": ["10 FH","50 FH","170 FH","10 SH","50 SH","170 SH"], "range": ["triangle-up","circle","M0,-1.2L0.29,-0.4L1.14,-0.37L0.47,0.15L0.71,0.97L0,0.49L-0.71,0.97L-0.47,0.15L-1.14,-0.37L-0.29,-0.4Z","triangle-up","circle","M0,-1.2L0.29,-0.4L1.14,-0.37L0.47,0.15L0.71,0.97L0,0.49L-0.71,0.97L-0.47,0.15L-1.14,-0.37L-0.29,-0.4Z"]},
              "legend": {"title": null, "orient": "none", "legendX": 327.5, "legendY": 34, "labelOffset": 24.7, "rowPadding": 4, "symbolSize": 50, "symbolStrokeWidth": 1}},
    "fill": {"field": "s", "type": "nominal", "scale": {"domain": ["10 FH","50 FH","170 FH","10 SH","50 SH","170 SH"], "range": ["#ff0000","#ff0000","#ff0000","transparent","transparent","transparent"]},
              "legend": {"title": null, "orient": "none", "legendX": 327.5, "legendY": 34, "labelOffset": 24.7, "rowPadding": 4, "symbolSize": 50, "symbolStrokeWidth": 1}},
    "stroke": {"field": "s", "type": "nominal", "scale": {"domain": ["10 FH","50 FH","170 FH","10 SH","50 SH","170 SH"], "range": ["#ff0000","#ff0000","#ff0000","#0000ff","#0000ff","#0000ff"]},
              "legend": {"title": null, "orient": "none", "legendX": 327.5, "legendY": 34, "labelOffset": 24.7, "rowPadding": 4, "symbolSize": 50, "symbolStrokeWidth": 1}}
   }
  },
  {
   "data": {"name": "F"},
   "mark": {"type": "line", "interpolate": "monotone", "strokeWidth": 2, "color": "#0000ff"},
   "encoding": {
    "x": {"field": "t", "type": "quantitative"},
    "y": {"field": "v", "type": "quantitative", "axis": null},
    "detail": {"field": "g"},
    "strokeDash": {"field": "f", "type": "nominal", "scale": {"domain": ["Fit"], "range": [[1, 0]]},
                   "legend": {"title": null, "orient": "none", "legendX": 318, "legendY": 189, "labelOffset": 8.7, "symbolType": "stroke", "symbolSize": 1089, "symbolStrokeColor": "#0000ff", "symbolStrokeWidth": 2}}
   }
  },
  {
   "data": {"name": "F"},
   "mark": {"type": "point", "opacity": 0},
   "encoding": {
    "x": {"field": "t", "type": "quantitative"},
    "y": {"field": "v", "type": "quantitative", "axis": {"orient": "right", "values": [0,0.1,0.2,0.3,0.4,0.5,0.6,0.7,0.8,0.9,1], "labels": false, "title": null}}
   }
  }
 ],
 "resolve": {"axis": {"y": "independent"}}
},
{
 "width": 449, "height": 315,
 "view": {"stroke": null},
 "title": {"text": "(b)\u00a0 Spectra of harmonic pulses", "orient": "bottom", "frame": "group", "anchor": "middle", "dx": -14, "offset": 14},
 "layer": [
  {
   "data": {"name": "R"},
   "mark": {"type": "line", "strokeWidth": 1},
   "encoding": {
    "x": {"field": "x", "type": "quantitative", "scale": {"domain": [0, 449], "nice": false, "zero": false},
          "axis": {"values": [181.7], "labelExpr": "'ω'", "labelFontWeight": "bold", "labelFontSize": 17, "labelOffset": 43, "tickSize": -5, "domain": true, "domainColor": "black", "domainWidth": 2, "title": "ω", "titleFontStyle": "italic", "titleX": 209, "titlePadding": 14}},
    "y": {"field": "y", "type": "quantitative", "scale": {"domain": [0, 0.151], "nice": false},
          "axis": {"values": [0,0.01,0.02,0.03,0.04,0.05,0.06,0.07,0.08,0.09,0.1,0.11,0.12,0.13,0.14], "labelExpr": "round(datum.value*100) % 2 == 0 ? (datum.value == 0 ? '0' : format(datum.value, '.2f')) : ''", "labelPadding": 12, "domain": true, "domainColor": "black", "domainWidth": 2, "title": "Normalized intensity", "titlePadding": 21.5}},
    "stroke": {"field": "s", "type": "nominal", "scale": {"domain": ["10 nJ","50 nJ","170 nJ"], "range": ["#2222ee","#2222ee","#2222ee"]},
               "legend": {"title": null, "orient": "none", "legendX": 308.5, "legendY": 38.5, "labelExpr": "''", "labelFontSize": 20, "rowPadding": 5.8, "symbolType": "M-1.75,0H-0.45M0.45,0H1.75", "symbolSize": 400, "symbolStrokeWidth": 1.3, "symbolStrokeColor": "#2222ee"}}
   }
  },
  {
   "data": {"name": "R"},
   "mark": {"type": "point", "size": 30, "strokeWidth": 0.8, "stroke": "#2222ee", "fill": "transparent", "opacity": 1},
   "encoding": {
    "x": {"field": "x", "type": "quantitative", "axis": null},
    "y": {"field": "y", "type": "quantitative"},
    "shape": {"field": "s", "type": "nominal", "sort": ["10 nJ","50 nJ","170 nJ"], "scale": {"range": ["triangle-up","circle","M0,-1.2L0.29,-0.4L1.14,-0.37L0.47,0.15L0.71,0.97L0,0.49L-0.71,0.97L-0.47,0.15L-1.14,-0.37L-0.29,-0.4Z"]},
              "legend": {"title": null, "orient": "none", "legendX": 311, "legendY": 45, "labelOffset": 10, "labelFontSize": 20, "rowPadding": 4.6, "symbolSize": 30, "symbolStrokeColor": "#2222ee", "symbolFillColor": "white", "symbolStrokeWidth": 1}}
   }
  },
  {
   "data": {"name": "V"},
   "mark": {"type": "rule", "color": "#333333", "strokeWidth": 1},
   "encoding": {
    "x": {"field": "x", "type": "quantitative", "axis": {"orient": "top", "domain": true, "domainColor": "black", "domainWidth": 2, "ticks": false, "labels": false, "title": null}}
   }
  }
 ],
 "resolve": {"axis": {"x": "independent"}}
}
]
}
